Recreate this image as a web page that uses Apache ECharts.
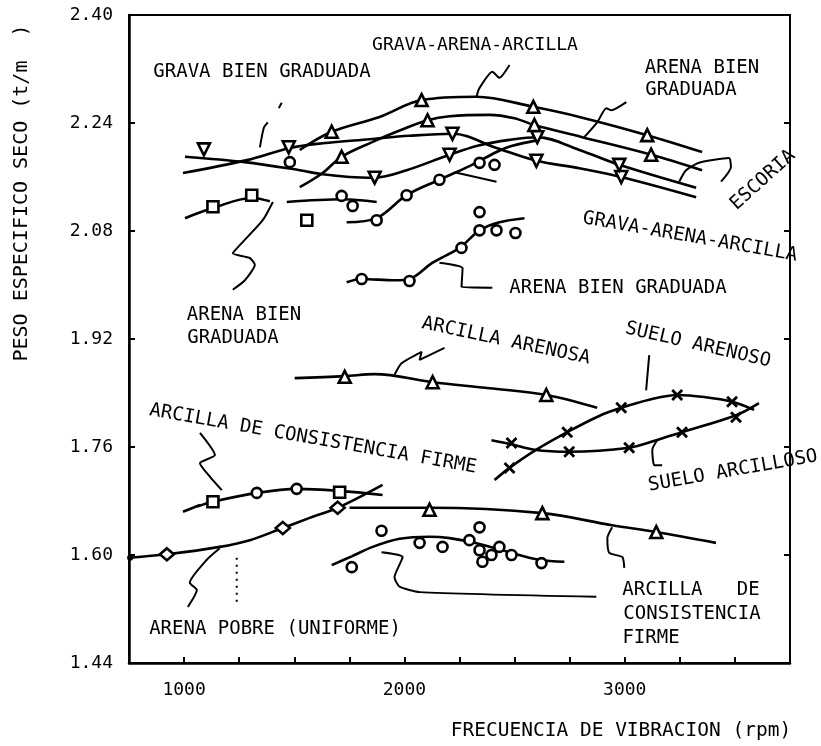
<!DOCTYPE html>
<html><head><meta charset="utf-8">
<script src="https://cdn.jsdelivr.net/npm/echarts@6/dist/echarts.min.js"></script>
<style>html,body{margin:0;padding:0;background:#fff}#c{width:821px;height:746px}</style>
</head><body><div id="c"></div>
<script>
// ---- tick labels ----
const xTickLabels = [1000, 2000, 3000];
const yTickLabels = ['1.44', '1.60', '1.76', '1.92', '2.08', '2.24', '2.40'];

// ---- curves [rpm, t/m3] ----
const gravaArenaArcillaTop = [[1525,2.200],[1670,2.227],[1887,2.249],[2078,2.274],[2327,2.279],[2585,2.264],[2794,2.249],[3102,2.222],[3351,2.197]];
const arenaBienTop = [[1525,2.145],[1629,2.166],[1715,2.190],[1856,2.212],[1964,2.227],[2105,2.244],[2205,2.250],[2386,2.252],[2499,2.247],[2590,2.237],[2807,2.219],[3120,2.193],[3351,2.170]];
const gravaBienA = [[995,2.166],[1285,2.185],[1480,2.203],[1629,2.210],[1842,2.216],[2023,2.221],[2218,2.224],[2418,2.203],[2599,2.184],[2794,2.173],[2984,2.160],[3324,2.130]];
const escoria = [[1004,2.190],[1276,2.182],[1525,2.170],[1629,2.164],[1751,2.160],[1865,2.159],[2010,2.170],[2205,2.193],[2341,2.207],[2477,2.215],[2603,2.219],[2794,2.200],[2975,2.178],[3324,2.144]];
const gravaArenaArcilla2 = [[1738,2.093],[1874,2.099],[2010,2.133],[2159,2.156],[2295,2.176],[2418,2.197],[2486,2.206],[2612,2.215]];
const arenaBienSqA = [[1004,2.099],[1131,2.114],[1307,2.129],[1389,2.124]];
const arenaBienSqB = [[1466,2.123],[1720,2.127],[1874,2.123]];
const arenaBienCirc = [[1738,2.004],[1806,2.009],[1955,2.007],[2023,2.009],[2128,2.033],[2250,2.055],[2341,2.081],[2431,2.093],[2545,2.099]];
const arcillaArenosa = [[1502,1.862],[1729,1.865],[1865,1.868],[2128,1.856],[2386,1.847],[2644,1.837],[2875,1.818]];
const sueloArenoso = [[2409,1.711],[2477,1.729],[2599,1.756],[2739,1.782],[2884,1.806],[2984,1.818],[3111,1.830],[3238,1.837],[3360,1.834],[3487,1.827],[3587,1.815]];
const sueloArcilloso = [[2395,1.770],[2486,1.764],[2590,1.756],[2748,1.753],[3020,1.759],[3143,1.770],[3260,1.782],[3505,1.807],[3609,1.825]];
const arcillaFirmeUp = [[1060,1.672],[1131,1.679],[1330,1.692],[1511,1.698],[1706,1.695],[1901,1.689]];
const arcillaFirmeDash = [[995,1.664],[1072,1.674]];
const arenaPobre = [[755,1.596],[922,1.601],[1162,1.612],[1298,1.622],[1448,1.640],[1570,1.655],[1697,1.670],[1901,1.704]];
const arcillaFirmeLow = [[1751,1.670],[2114,1.670],[2626,1.662],[2943,1.644],[3143,1.634],[3414,1.618]];
const arcillaFirmeCluster = [[1670,1.585],[1761,1.598],[1856,1.612],[1978,1.624],[2114,1.627],[2205,1.625],[2318,1.618],[2477,1.604],[2612,1.593],[2726,1.590]];

// ---- measured points ----
const triUpPts = [[1670,2.227],[2078,2.274],[2585,2.264],[3102,2.222],[1715,2.190],[2105,2.244],[2590,2.237],[3120,2.193],[1729,1.864],[2128,1.856],[2644,1.837],[2114,1.667],[2626,1.662],[3143,1.634]];
const triDownPts = [[2218,2.224],[2599,2.184],[2984,2.160],[1865,2.159],[2205,2.193],[2603,2.219],[2975,2.178],[1090,2.201],[1475,2.204]];
const circlePts = [[1480,2.182],[1874,2.096],[2010,2.133],[2159,2.156],[2341,2.181],[2409,2.178],[1715,2.132],[1765,2.117],[1806,2.009],[2023,2.006],[2259,2.055],[2341,2.108],[2341,2.081],[2418,2.081],[2504,2.077],[1330,1.692],[1511,1.698],[1761,1.582],[1896,1.636],[2069,1.618],[2173,1.612],[2341,1.641],[2295,1.622],[2341,1.607],[2354,1.590],[2395,1.600],[2431,1.612],[2486,1.600],[2622,1.588]];
const squarePts = [[1131,2.116],[1307,2.133],[1557,2.096],[1131,1.679],[1706,1.693]];
const diamondPts = [[922,1.601],[1448,1.640],[1697,1.670]];
const crossPts = [[2477,1.729],[2739,1.782],[2984,1.818],[3238,1.837],[3487,1.827],[2486,1.766],[2748,1.753],[3020,1.759],[3260,1.782],[3505,1.804]];
const dotPts = [[755,1.596]];

// ---- leader lines ----
const leaders = [
  [[1344,2.204],[1362,2.233],[1380,2.241]],
  [[1430,2.262],[1443,2.270]],
  [[2327,2.279],[2341,2.292],[2399,2.316],[2431,2.307],[2477,2.326]],
  [[2816,2.219],[2875,2.241],[2916,2.262],[2939,2.259],[3007,2.271]],
  [[3247,2.153],[3278,2.170],[3337,2.181],[3473,2.188],[3482,2.175],[3437,2.153]],
  [[1403,2.123],[1357,2.096],[1253,2.059],[1221,2.047],[1298,2.040],[1321,2.030],[1276,2.007],[1221,1.993]],
  [[2227,2.167],[2418,2.153]],
  [[2159,2.033],[2264,2.025],[2259,1.997],[2399,1.996]],
  [[1955,1.867],[1987,1.884],[2078,1.901],[2069,1.889],[2182,1.907]],
  [[3097,1.844],[3111,1.896]],
  [[3147,1.770],[3125,1.756],[3134,1.733],[3170,1.733]],
  [[1072,1.781],[1140,1.748],[1072,1.736],[1117,1.716],[1171,1.696]],
  [[1162,1.610],[1103,1.593],[1026,1.559],[1058,1.548],[1017,1.523]],
  [[2943,1.641],[2921,1.625],[2930,1.603],[2989,1.597],[2998,1.581]],
  [[1896,1.604],[1992,1.597],[1955,1.567],[1978,1.553],[2069,1.545],[2871,1.538]]
];
const dottedMark = [[1239,1.596],[1239,1.526]];

const FONT = 'DejaVu Sans Mono';
const curves = [gravaArenaArcillaTop, arenaBienTop, gravaBienA, escoria, gravaArenaArcilla2, arenaBienSqA, arenaBienSqB, arenaBienCirc, arcillaArenosa, sueloArenoso, sueloArcilloso, arcillaFirmeUp, arcillaFirmeDash, arenaPobre, arcillaFirmeLow, arcillaFirmeCluster];

const series = [];
curves.forEach(d => series.push({type:'line', data:d, smooth:0.35, showSymbol:false, silent:true, lineStyle:{color:'#000', width:2.6}, z:2}));
leaders.forEach(d => series.push({type:'line', data:d, smooth:0.2, showSymbol:false, silent:true, lineStyle:{color:'#000', width:2}, z:2}));
series.push({type:'line', data:dottedMark, showSymbol:false, lineStyle:{color:'#000', width:2, type:[2,5]}, z:2});
const hollow = {color:'#fff', borderColor:'#000', borderWidth:2.6, opacity:1};
series.push({type:'scatter', data:triUpPts, symbol:'triangle', symbolSize:12, itemStyle:hollow, z:3});
series.push({type:'scatter', data:triDownPts, symbol:'triangle', symbolRotate:180, symbolSize:12, itemStyle:hollow, z:3});
series.push({type:'scatter', data:circlePts, symbol:'circle', symbolSize:10, itemStyle:hollow, z:3});
series.push({type:'scatter', data:squarePts, symbol:'rect', symbolSize:11, itemStyle:hollow, z:3});
series.push({type:'scatter', data:diamondPts, symbol:'diamond', symbolSize:[14,12], itemStyle:hollow, z:3});
series.push({type:'scatter', data:crossPts, symbol:'path://M0,0L10,10M10,0L0,10', symbolSize:10, itemStyle:{color:'none', borderColor:'#000', borderWidth:2.8, opacity:1}, z:3});
series.push({type:'scatter', data:dotPts, symbol:'circle', symbolSize:6, itemStyle:{color:'#000', opacity:1}, z:3});

const deg = Math.PI / 180;
const labelList = [
  ['GRAVA-ARENA-ARCILLA', 475, 45, 0, 18],
  ['GRAVA BIEN GRADUADA', 262, 72, 0, 19],
  ['ARENA BIEN', 702, 68, 0, 19],
  ['GRADUADA', 691, 90, 0, 19],
  ['ESCORIA', 763, 180, 42, 19],
  ['GRAVA-ARENA-ARCILLA', 690, 237, -10, 19],
  ['ARENA BIEN GRADUADA', 618, 288, 0, 19],
  ['ARENA BIEN', 244, 315, 0, 19],
  ['GRADUADA', 233, 338, 0, 19],
  ['ARCILLA ARENOSA', 506, 341, -12, 19],
  ['SUELO ARENOSO', 698, 345, -13, 19],
  ['ARCILLA DE CONSISTENCIA FIRME', 313, 439, -10, 19],
  ['SUELO ARCILLOSO', 733, 471, 10, 19],
  ['ARENA POBRE (UNIFORME)', 275, 629, 0, 19],
  ['ARCILLA   DE', 691, 590, 0, 19],
  ['CONSISTENCIA', 692, 614, 0, 19],
  ['FIRME', 651, 638, 0, 19]
];
const graphics = labelList.map(l => ({type:'text', x:l[1], y:l[2], rotation:l[3]*deg, z:10,
  style:{text:l[0], font:l[4] + 'px "' + FONT + '"', fill:'#000', align:'center', verticalAlign:'middle'}}));
graphics.push({type:'text', x:22, y:193, rotation:90*deg, z:10, style:{text:'PESO ESPECIFICO SECO (t/m  )', font:'20px "' + FONT + '"', fill:'#000', align:'center', verticalAlign:'middle'}});
graphics.push({type:'text', x:621, y:731, z:10, style:{text:'FRECUENCIA DE VIBRACION (rpm)', font:'19.5px "' + FONT + '"', fill:'#000', align:'center', verticalAlign:'middle'}});

const chart = echarts.init(document.getElementById('c'), null, {renderer:'canvas'});
chart.setOption({
  animation:false,
  backgroundColor:'#fff',
  grid:{left:129, top:15, right:31, bottom:83, show:true, borderColor:'#000', borderWidth:2},
  xAxis:{type:'value', min:750, max:3750, interval:250,
    axisLine:{show:true, lineStyle:{color:'#000', width:2.5}},
    axisTick:{show:true, inside:true, length:6, lineStyle:{color:'#000', width:2}},
    splitLine:{show:false},
    axisLabel:{margin:18, color:'#000', fontFamily:FONT, fontSize:18,
      formatter:v => xTickLabels.indexOf(Math.round(v)) >= 0 ? String(Math.round(v)) : ''}},
  yAxis:[{type:'value', min:1.44, max:2.40, interval:0.16,
    axisLine:{show:true, lineStyle:{color:'#000', width:2.5}},
    axisTick:{show:true, inside:true, length:6, lineStyle:{color:'#000', width:2}},
    splitLine:{show:false},
    axisLabel:{margin:16, color:'#000', fontFamily:FONT, fontSize:18,
      formatter:v => { const s = v.toFixed(2); return yTickLabels.indexOf(s) >= 0 ? s : ''; }}},
    {type:'value', position:'right', min:1.44, max:2.40, interval:0.16,
    axisLine:{show:true, lineStyle:{color:'#000', width:2}},
    axisTick:{show:true, inside:true, length:6, lineStyle:{color:'#000', width:2}},
    axisLabel:{show:false}, splitLine:{show:false}}],
  series:series,
  graphic:graphics
});
</script></body></html>
